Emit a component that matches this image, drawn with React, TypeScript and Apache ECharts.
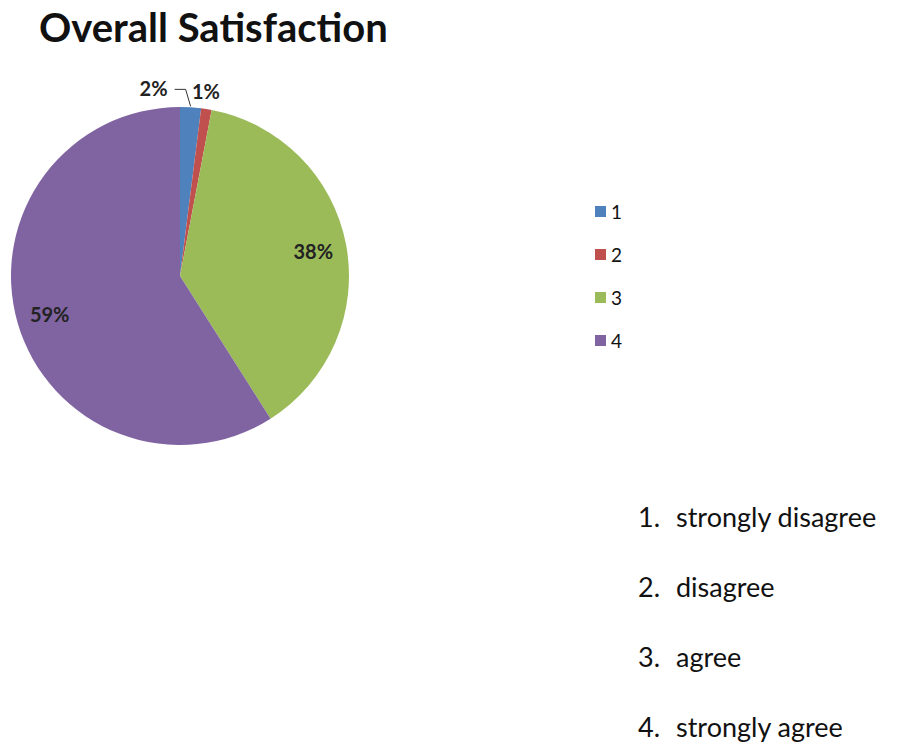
import React, { useEffect, useRef } from "react";
import * as echarts from "echarts";

const categories = ["1", "2", "3", "4"];
const values = [2, 1, 38, 59];
const colors = ["#4F81BD", "#C0504D", "#9BBB59", "#8064A2"];
const titleText = "Overall Satisfaction";
const listNumbers = ["1.", "2.", "3.", "4."];
const listLabels = ["strongly disagree", "disagree", "agree", "strongly agree"];
const outsideIdx = [0, 1];

export default function App() {
  const ref = useRef<HTMLDivElement>(null);
  useEffect(() => {
    if (!ref.current) return;
    const chart = echarts.init(ref.current, null, { renderer: "svg" });
    const fontFamily = "Lato";
    const cx = 180;
    const cy = 276;
    const R = 169;
    const mainData = categories.map((c, i) => ({
      name: c,
      value: values[i],
      itemStyle: { color: colors[i] },
      label: outsideIdx.includes(i)
        ? { show: true, position: "outside" }
        : { show: false },
      labelLine: outsideIdx.includes(i)
        ? { show: true, length: i === 0 ? 18 : 10, length2: 0, lineStyle: { opacity: i === 0 ? 1 : 0 } }
        : { show: false },
    }));
    const ringData = categories.map((c, i) => ({
      name: c,
      value: values[i],
      itemStyle: { color: "rgba(0,0,0,0)" },
      label: { show: !outsideIdx.includes(i) },
    }));
    const listGraphics: any[] = [];
    listLabels.forEach((l, i) => {
      const y = 516 + i * 70;
      listGraphics.push({
        type: "text",
        x: 638,
        y,
        style: { text: listNumbers[i], fontFamily, fontSize: 27, fill: "#111", verticalAlign: "middle" },
      });
      listGraphics.push({
        type: "text",
        x: 676,
        y,
        style: { text: l, fontFamily, fontSize: 27, fill: "#111", verticalAlign: "middle" },
      });
    });
    chart.setOption({
      animation: false,
      backgroundColor: "#fff",
      title: {
        text: titleText,
        left: 34,
        top: 2,
        textStyle: { fontFamily, fontWeight: "bold", fontSize: 40, color: "#111" },
      },
      legend: {
        orient: "vertical",
        left: 590,
        top: 197,
        itemWidth: 11,
        itemHeight: 11,
        itemGap: 24,
        icon: "rect",
        data: categories,
        textStyle: { fontFamily, fontSize: 19, lineHeight: 19, color: "#111", padding: [0, 0, 0, 0] },
      },
      graphic: listGraphics,
      series: [
        {
          type: "pie",
          center: [cx, cy],
          radius: [0, R],
          startAngle: 90,
          clockwise: true,
          avoidLabelOverlap: false,
          silent: true,
          data: mainData,
          label: {
            fontFamily,
            fontSize: 20,
            fontWeight: "bold",
            color: "#222",
            formatter: (p: any) => `${p.value}%`,
          },
          labelLine: { lineStyle: { color: "#333", width: 1 } },
          labelLayout: (p: any) => {
            const pts = p.labelLinePoints;
            if (!pts) return {};
            const a = pts[0];
            const b = pts[1];
            if (p.dataIndex === 0) {
              const bend = [a[0] - 5, b[1]];
              const end = [a[0] - 16, b[1]];
              return {
                x: end[0] - 7,
                y: end[1] - 1,
                align: "right",
                verticalAlign: "middle",
                labelLinePoints: [[a[0], a[1] - 1], bend, end],
              };
            }
            if (p.dataIndex === 1) {
              return { x: b[0] - 2, y: b[1] + 2, align: "center", verticalAlign: "bottom" };
            }
            return {};
          },
        },
        {
          type: "pie",
          center: [cx, cy],
          radius: [R * 0.57, R],
          startAngle: 90,
          clockwise: true,
          silent: true,
          data: ringData,
          label: {
            position: "inside",
            fontFamily,
            fontSize: 20,
            fontWeight: "bold",
            color: "#222",
            formatter: (p: any) => `${p.value}%`,
          },
          labelLine: { show: false },
        },
      ],
    });
    return () => chart.dispose();
  }, []);
  return (
    <div
      ref={ref}
      style={{ position: "fixed", left: 0, top: 0, width: 897, height: 744 }}
    />
  );
}
